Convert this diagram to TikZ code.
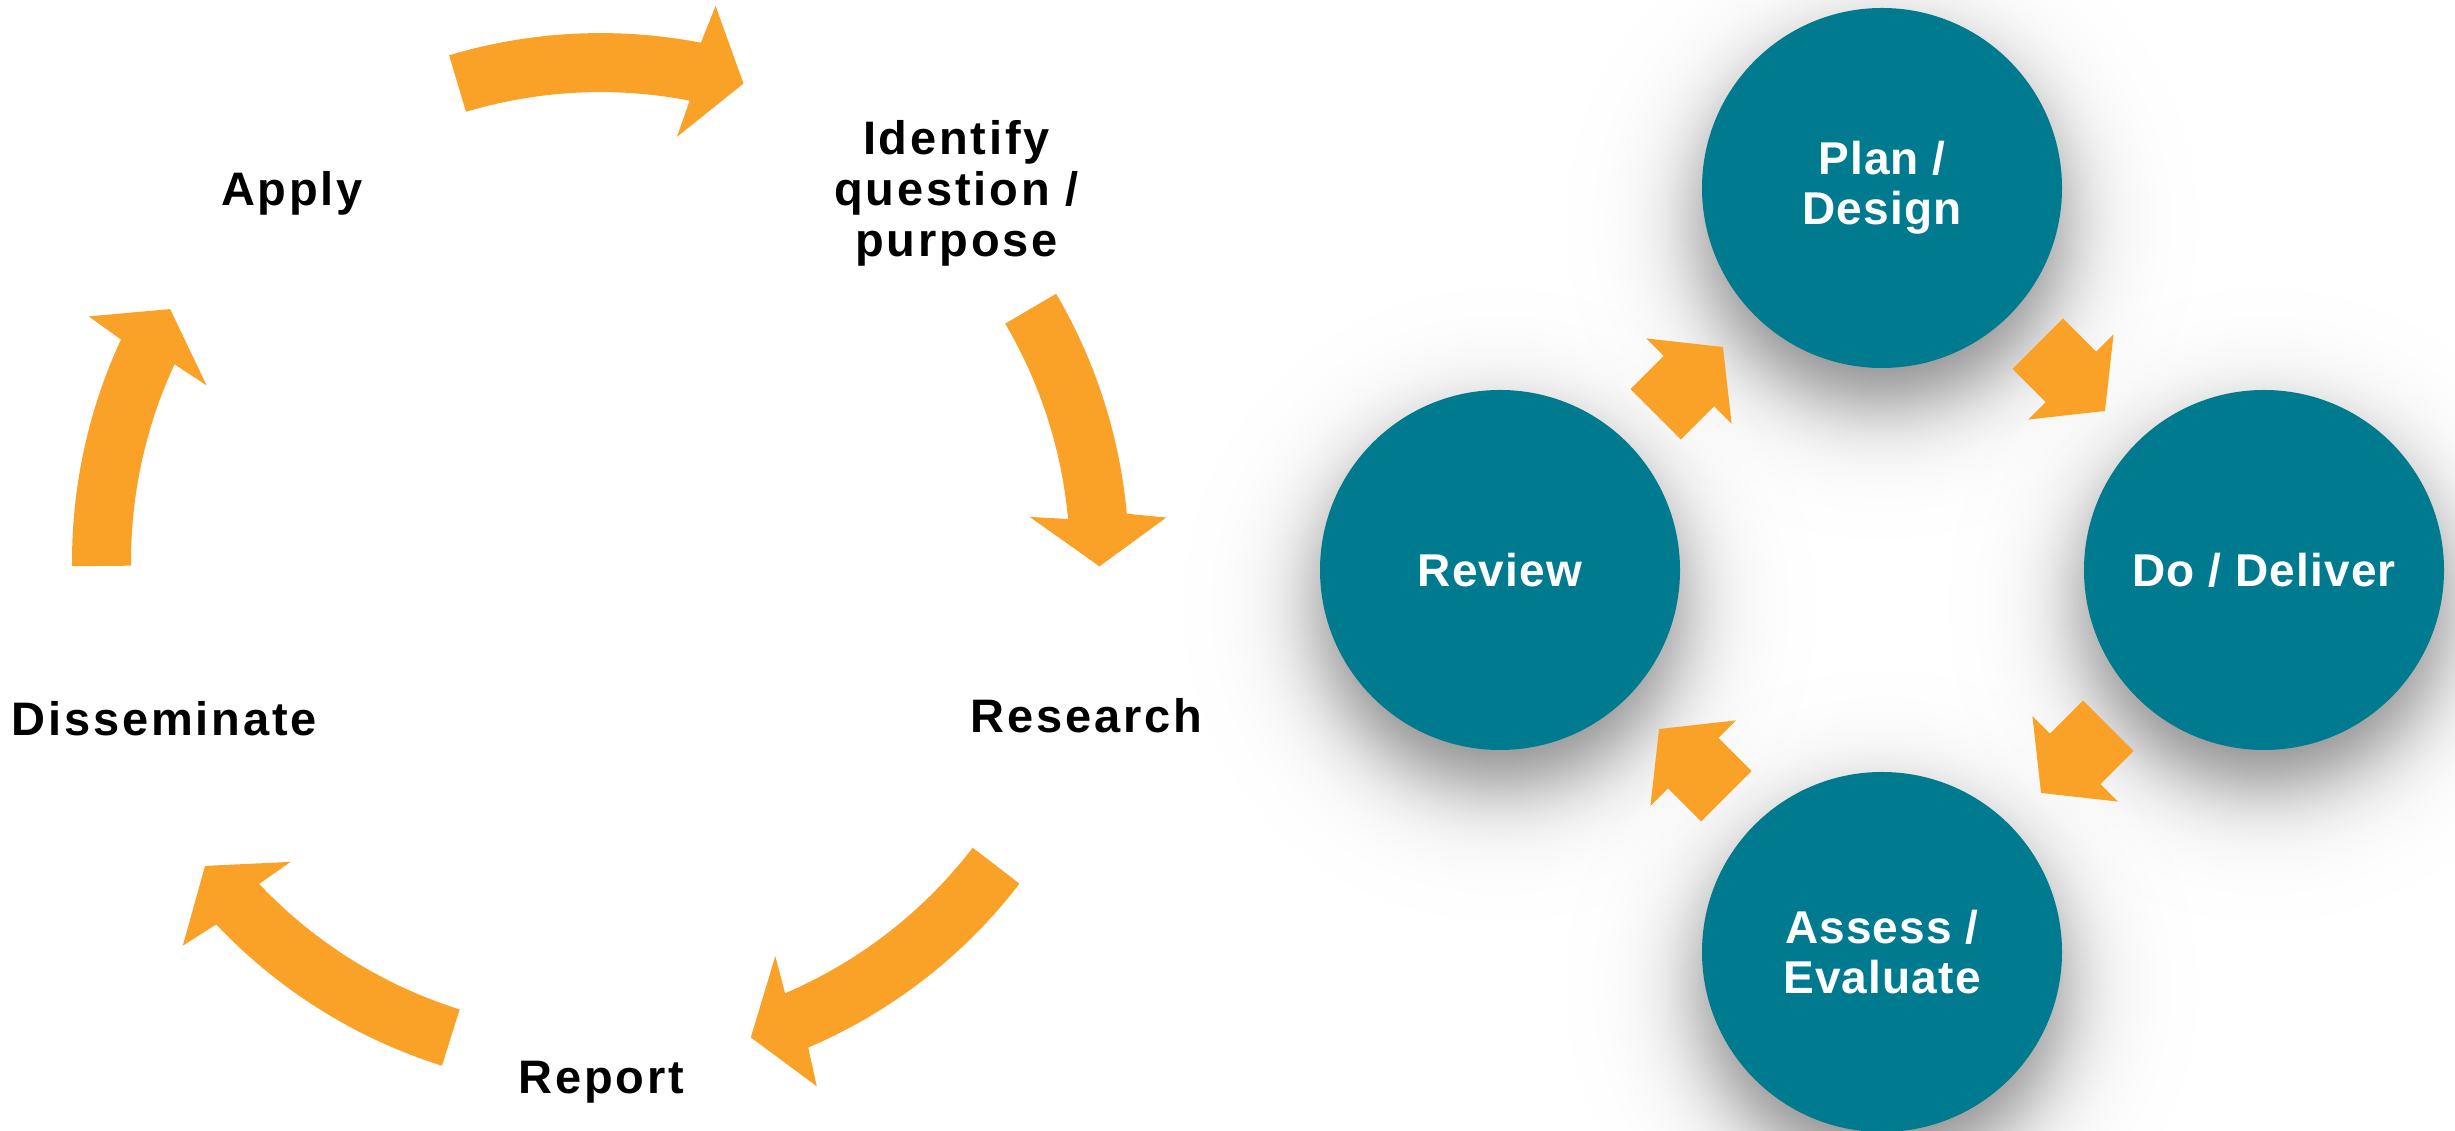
\documentclass[tikz,border=0pt]{standalone}
\usepackage{fontspec}
\setmainfont{Liberation Sans}
\newfontfamily\cyclefont{Liberation Sans}[LetterSpace=6]
\newfontfamily\phasefont{Liberation Sans}[LetterSpace=2.5]
\usetikzlibrary{calc,backgrounds}

\definecolor{cycleorange}{RGB}{250,162,39}
\definecolor{phaseteal}{RGB}{0,122,143}

\begin{document}
\begin{tikzpicture}[
		x=1pt, y=1pt,
		% Styles
		cyclearrow/.style={fill=cycleorange},
		blockarrow/.style={fill=cycleorange},
		cyclelabel/.style={font=\cyclefont\bfseries\fontsize{47}{51}\selectfont, align=center, inner sep=0pt},
		phase/.style={circle, fill=phaseteal, minimum size=360pt, inner sep=0pt, text=white, align=center,
			font=\phasefont\bfseries\fontsize{46}{50}\selectfont},
		halo/.style={fill=black, opacity=0.0058}
	]

	% --- Parameters ---
	\def\rMid{499pt}   % middle of the ring
	\def\rIn{469.5pt}  % inner edge of the shaft
	\def\rOut{528.5pt} % outer edge of the shaft
	\def\hIn{431.5pt}  % inner corner of the head
	\def\hOut{567.5pt} % outer corner of the head

	\useasboundingbox (0,0) rectangle (2455,1131);

	% --- 1. LEFT CYCLE: curved arrows ---
	\coordinate (cyc) at (600.5,569.4);
	\begin{scope}[shift={(cyc)}]
		% tail angle / head base angle / tip angle
		\foreach \tail/\base/\tip in {106.65/79.05/73.35, 30.45/5.2/-0.55, -37.55/-66.85/-72.47,
				252.54/223.35/217.58, 180.5/155.15/149.6}
			\fill[cyclearrow] (\tail:\rOut) arc[start angle=\tail, end angle=\base, radius=\rOut]
			-- (\base-0.75:\hOut) -- (\tip:\rMid) -- (\base+0.75:\hIn)
			-- (\base:\rIn) arc[start angle=\base, end angle=\tail, radius=\rIn] -- cycle;
	\end{scope}

	% --- 2. LEFT CYCLE: labels ---
	\node[cyclelabel, anchor=base] (apply) at (292,925.4) {Apply};
	\node[cyclelabel] (identify) at (956.5,938) {Identify\\question /\\purpose};
	\node[cyclelabel, anchor=base] (research) at (1086.5,398.7) {Research};
	\node[cyclelabel, anchor=base] (report) at (601.5,37) {Report};
	\node[cyclelabel, anchor=base] (disseminate) at (164.4,395.1) {Disseminate};

	% --- 3. RIGHT CYCLE: phases ---
	\node[phase] (plan) at (1882,943) {Plan /\\Design};
	\node[phase] (review) at (1500,561) {Review};
	\node[phase] (deliver) at (2264,561) {Do / Deliver};
	\node[phase] (assess) at (1882,179) {Assess /\\Evaluate};

	% Block arrows between the phases
	\foreach \from/\to/\ang in {review/plan/45, plan/deliver/-45, deliver/assess/-135, assess/review/135}
		\fill[blockarrow, shift={($(\from)!0.5!(\to)$)}, rotate=\ang]
		(-50,35.7) -- (-3,35.7) -- (-3,60.4) -- (45.2,0) -- (-3,-60.4) -- (-3,-35.7) -- (-50,-35.7) -- cycle;

	% --- 4. SHADOWS behind the phases (soft, shifted down) ---
	\begin{scope}[on background layer]
		\fill[white] (0,0) rectangle (2455,1131);
		\foreach \n in {plan,review,deliver,assess}
			\foreach \k in {0,...,119}
				\fill[halo] ($(\n.center)+(0,-35)$) circle ({180+25*ln((\k+0.5)/(119.5-\k))});
	\end{scope}

\end{tikzpicture}
\end{document}
